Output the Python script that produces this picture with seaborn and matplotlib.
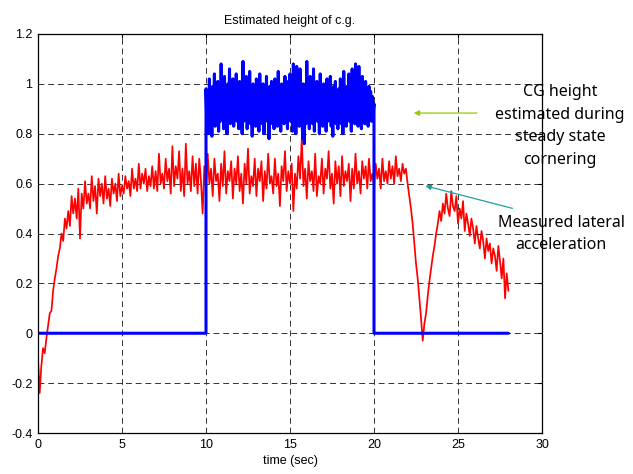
import numpy as np
import pandas as pd
import seaborn as sns
import matplotlib.pyplot as plt

# measured lateral acceleration, sampled every 0.1 s from 0 to 28 s
accel_dt = 0.1
accel = [
    -0.10, -0.24, -0.13, -0.06, -0.08, -0.02, 0.03, 0.08, 0.09, 0.17,
    0.22, 0.26, 0.31, 0.34, 0.40, 0.37, 0.46, 0.42, 0.49, 0.43,
    0.55, 0.48, 0.54, 0.46, 0.58, 0.38, 0.56, 0.50, 0.61, 0.52,
    0.56, 0.50, 0.63, 0.53, 0.59, 0.48, 0.62, 0.55, 0.60, 0.52,
    0.63, 0.54, 0.58, 0.51, 0.62, 0.56, 0.60, 0.53, 0.64, 0.55,
    0.59, 0.56, 0.63, 0.58, 0.61, 0.55, 0.66, 0.58, 0.62, 0.57,
    0.68, 0.58, 0.64, 0.60, 0.66, 0.57, 0.63, 0.59, 0.67, 0.58,
    0.65, 0.57, 0.72, 0.60, 0.64, 0.58, 0.70, 0.61, 0.66, 0.56,
    0.75, 0.59, 0.67, 0.62, 0.73, 0.57, 0.66, 0.55, 0.76, 0.60,
    0.65, 0.57, 0.71, 0.59, 0.68, 0.56, 0.70, 0.61, 0.48, 0.67,
    0.58, 0.72, 0.60, 0.66, 0.55, 0.70, 0.61, 0.64, 0.53, 0.68,
    0.59, 0.73, 0.56, 0.65, 0.61, 0.69, 0.54, 0.66, 0.60, 0.71,
    0.57, 0.64, 0.52, 0.68, 0.60, 0.74, 0.56, 0.63, 0.59, 0.70,
    0.55, 0.66, 0.61, 0.69, 0.53, 0.65, 0.58, 0.72, 0.60, 0.63,
    0.56, 0.70, 0.59, 0.64, 0.51, 0.67, 0.61, 0.73, 0.57, 0.65,
    0.60, 0.68, 0.49, 0.64, 0.58, 0.71, 0.62, 0.78, 0.59, 0.66,
    0.54, 0.69, 0.61, 0.65, 0.57, 0.72, 0.55, 0.63, 0.60, 0.70,
    0.56, 0.66, 0.62, 0.73, 0.58, 0.64, 0.52, 0.69, 0.60, 0.67,
    0.55, 0.71, 0.59, 0.65, 0.61, 0.68, 0.53, 0.66, 0.58, 0.72,
    0.60, 0.65, 0.56, 0.69, 0.62, 0.67, 0.58, 0.70, 0.61, 0.64,
    0.59, 0.68, 0.62, 0.66, 0.58, 0.70, 0.61, 0.65, 0.60, 0.69,
    0.62, 0.67, 0.60, 0.71, 0.63, 0.66, 0.61, 0.68, 0.64, 0.66,
    0.60, 0.55, 0.50, 0.44, 0.36, 0.28, 0.22, 0.14, 0.06, -0.03,
    0.04, 0.08, 0.15, 0.21, 0.26, 0.31, 0.35, 0.40, 0.44, 0.49,
    0.45, 0.52, 0.48, 0.56, 0.50, 0.47, 0.57, 0.51, 0.49, 0.55,
    0.44, 0.50, 0.46, 0.53, 0.41, 0.48, 0.44, 0.39, 0.46, 0.42,
    0.36, 0.43, 0.38, 0.34, 0.41, 0.37, 0.30, 0.38, 0.33, 0.36,
    0.28, 0.34, 0.31, 0.25, 0.35, 0.29, 0.22, 0.30, 0.14, 0.24,
    0.17,
]

# CG height estimate, zero outside the cornering window 10-20 s
cg_start, cg_end, t_end = 10.0, 20.0, 28.0
cg_dt = 0.05
cg_est = [
    0.98, 0.84, 0.93, 0.80, 1.02, 0.87, 0.95, 0.79, 0.99, 0.86, 1.04, 0.83, 0.94, 0.88, 1.01, 0.81, 0.96, 0.85, 1.08, 0.90,
    0.97, 0.82, 1.03, 0.87, 0.93, 0.80, 1.00, 0.86, 1.06, 0.84, 0.95, 0.88, 1.02, 0.83, 0.98, 0.91, 1.04, 0.85, 0.94, 0.82,
    1.01, 0.87, 0.96, 0.80, 1.09, 0.85, 0.93, 0.89, 1.03, 0.82, 0.97, 0.86, 1.05, 0.84, 0.92, 0.79, 1.00, 0.88, 0.95, 0.83,
    1.02, 0.86, 0.94, 0.81, 1.04, 0.89, 0.97, 0.84, 1.00, 0.80, 0.93, 0.87, 1.03, 0.85, 0.96, 0.78, 0.99, 0.88, 1.01, 0.84,
    0.95, 0.82, 1.02, 0.87, 0.94, 0.83, 1.05, 0.89, 0.97, 0.81, 1.00, 0.86, 0.92, 0.84, 1.03, 0.88, 0.96, 0.82, 1.01, 0.87,
    1.04, 0.85, 0.98, 0.81, 1.08, 0.88, 0.95, 0.80, 1.07, 0.86, 0.99, 0.83, 1.06, 0.87, 0.94, 0.78, 1.00, 0.76, 0.97, 0.84,
    1.09, 0.86, 0.95, 0.82, 1.03, 0.88, 0.98, 0.84, 1.06, 0.81, 0.96, 0.87, 1.01, 0.85, 0.93, 0.80, 1.04, 0.86, 0.97, 0.83,
    1.00, 0.87, 0.94, 0.81, 1.02, 0.85, 0.97, 0.88, 1.03, 0.83, 0.95, 0.79, 0.99, 0.86, 1.01, 0.84, 0.93, 0.82, 0.98, 0.87,
    1.02, 0.84, 0.96, 0.80, 1.05, 0.86, 0.94, 0.83, 0.99, 0.88, 1.04, 0.85, 0.97, 0.81, 1.06, 0.87, 0.95, 0.84, 1.08, 0.86,
    0.98, 0.83, 1.07, 0.88, 0.95, 0.82, 1.03, 0.87, 0.96, 0.84, 1.01, 0.86, 0.94, 0.83, 0.99, 0.89, 0.97, 0.85, 0.95, 0.88,
    0.92,
]

x_ticks = [0, 5, 10, 15, 20, 25, 30]
y_ticks = [-0.4, -0.2, 0, 0.2, 0.4, 0.6, 0.8, 1, 1.2]
y_labels = ["-0.4", "-0.2", "0", "0.2", "0.4", "0.6", "0.8", "1", "1.2"]

accel_df = pd.DataFrame({"t": np.arange(len(accel)) * accel_dt, "v": accel})
cg_t = np.concatenate([[0.0, cg_start], cg_start + np.arange(len(cg_est)) * cg_dt, [cg_end, t_end]])
cg_v = np.concatenate([[0.0, 0.0], cg_est, [0.0, 0.0]])
cg_df = pd.DataFrame({"t": cg_t, "v": cg_v})

sns.set_style("white")
plt.rcParams["font.family"] = ["Liberation Sans", "DejaVu Sans"]
plt.rcParams.update({"text.color": "black", "axes.labelcolor": "black",
                     "xtick.color": "black", "ytick.color": "black"})

fig = plt.figure(figsize=(6.33, 4.74), dpi=100)
ax = fig.add_axes([38 / 633, 41 / 474, 504 / 633, 399 / 474])

sns.lineplot(data=accel_df, x="t", y="v", ax=ax, color="red", linewidth=1.25,
             estimator=None, sort=False)
sns.lineplot(data=cg_df, x="t", y="v", ax=ax, color="blue", linewidth=2.2,
             estimator=None, sort=False)

ax.set_xlim(0, 30)
ax.set_ylim(-0.4, 1.2)
ax.set_xticks(x_ticks)
ax.set_yticks(y_ticks)
ax.set_yticklabels(y_labels)
ax.grid(True, color="#333333", linestyle=(0, (6, 4)), linewidth=0.7)
ax.tick_params(direction="in", length=3, labelsize=9, top=True, right=True, pad=4)
for s in ax.spines.values():
    s.set_color("black")
    s.set_linewidth(0.9)
ax.set_xlabel("time (sec)", fontsize=9, labelpad=3)
ax.set_ylabel("")
ax.set_title("Estimated height of c.g.", fontsize=9, pad=7)

# annotations
ax.annotate("", xy=(22.2, 0.883), xytext=(26.3, 0.883),
            arrowprops=dict(arrowstyle="-|>", color="#99cc00", lw=0.9, mutation_scale=8),
            annotation_clip=False)
ax.annotate("", xy=(22.9, 0.594), xytext=(28.4, 0.498),
            arrowprops=dict(arrowstyle="-|>", color="#1fa0a0", lw=0.9, mutation_scale=8),
            annotation_clip=False)
fig.text(560 / 633, 1 - 126 / 474, "CG height\nestimated during\nsteady state\ncornering",
         ha="center", va="center", fontsize=11.5, linespacing=1.55,
         family=["Noto Sans", "DejaVu Sans"])
fig.text(561 / 633, 1 - 234 / 474, "Measured lateral\nacceleration",
         ha="center", va="center", fontsize=11.5, linespacing=1.55,
         family=["Noto Sans", "DejaVu Sans"])

fig.savefig("out.png", dpi=100)
